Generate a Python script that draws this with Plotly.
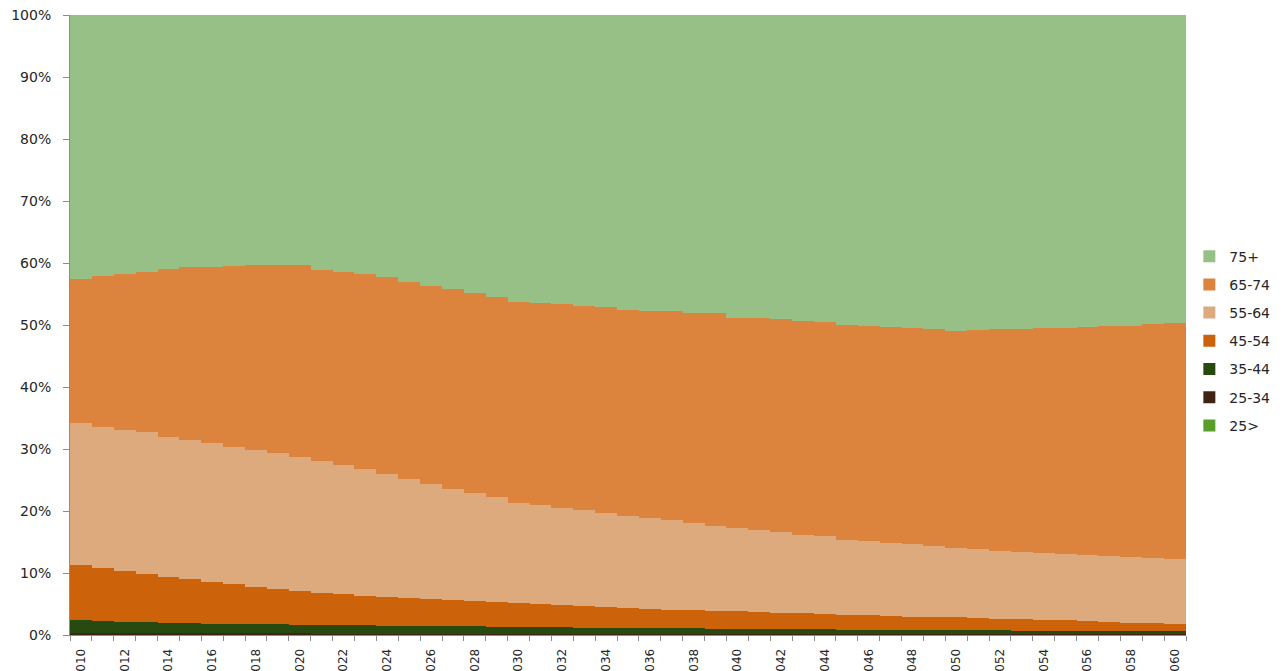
import plotly.graph_objects as go

years = list(range(2010, 2061))

age_groups = ["25>", "25-34", "35-44", "45-54", "55-64", "65-74", "75+"]
colors = ["#5A9E2A", "#3F2314", "#264A0F", "#CC630B", "#DDAA7E", "#DC843E", "#97C087"]

share_under25 = [0.05] * 51
share_25_34 = [0.2] * 11 + [0.15] * 20 + [0.1] * 20
share_35_44 = [2.15, 2.0, 1.9, 1.8, 1.7, 1.65, 1.6, 1.55, 1.5, 1.45,
               1.4, 1.4, 1.4, 1.35, 1.3, 1.3, 1.25, 1.2, 1.2, 1.15,
               1.1, 1.1, 1.05, 1.0, 1.0, 0.95, 0.9, 0.9, 0.85, 0.8,
               0.8, 0.8, 0.8, 0.75, 0.75, 0.7, 0.7, 0.65, 0.65, 0.65,
               0.6, 0.6, 0.6, 0.55, 0.55, 0.55, 0.55, 0.5, 0.5, 0.5, 0.5]
share_45_54 = [8.9, 8.55, 8.15, 7.85, 7.45, 7.1, 6.75, 6.4, 6.05, 5.8,
               5.45, 5.2, 5.0, 4.75, 4.7, 4.5, 4.35, 4.2, 4.05, 3.95,
               3.85, 3.7, 3.6, 3.5, 3.3, 3.2, 3.1, 3.0, 2.95, 2.9,
               2.8, 2.75, 2.65, 2.6, 2.45, 2.35, 2.3, 2.25, 2.15, 2.1,
               2.1, 2.0, 1.9, 1.85, 1.75, 1.65, 1.55, 1.45, 1.35, 1.25, 1.15]
share_55_64 = [22.9, 22.8, 22.8, 22.8, 22.6, 22.5, 22.4, 22.2, 22.1, 21.9,
               21.6, 21.2, 20.9, 20.4, 19.8, 19.1, 18.5, 18.0, 17.45, 17.0,
               16.15, 15.9, 15.65, 15.4, 15.2, 14.85, 14.6, 14.4, 14.0, 13.7,
               13.4, 13.2, 13.0, 12.7, 12.55, 12.2, 12.05, 11.85, 11.65, 11.5,
               11.15, 11.05, 10.95, 10.85, 10.85, 10.75, 10.65, 10.6, 10.6, 10.6, 10.5]
share_65_74 = [23.3, 24.3, 25.1, 25.9, 27.0, 27.8, 28.4, 29.1, 29.7, 30.3,
               30.9, 30.9, 31.1, 31.5, 31.8, 31.9, 32.0, 32.2, 32.2, 32.2,
               32.4, 32.7, 32.9, 33.0, 33.2, 33.2, 33.5, 33.7, 34.0, 34.3,
               34.0, 34.2, 34.4, 34.5, 34.6, 34.6, 34.6, 34.7, 34.9, 34.9,
               35.1, 35.4, 35.7, 36.0, 36.2, 36.4, 36.7, 37.1, 37.3, 37.6, 38.0]
share_75plus = [42.5, 42.1, 41.8, 41.4, 41.0, 40.7, 40.6, 40.5, 40.4, 40.3,
                40.4, 41.1, 41.4, 41.8, 42.2, 43.0, 43.7, 44.2, 44.9, 45.5,
                46.3, 46.4, 46.6, 46.9, 47.1, 47.6, 47.7, 47.8, 48.0, 48.1,
                48.8, 48.9, 49.0, 49.3, 49.5, 50.0, 50.2, 50.4, 50.5, 50.7,
                50.9, 50.8, 50.7, 50.6, 50.5, 50.5, 50.4, 50.2, 50.1, 49.9, 49.7]

series = [share_under25, share_25_34, share_35_44, share_45_54,
          share_55_64, share_65_74, share_75plus]

x_tick_years = list(range(2010, 2061, 2))
y_tick_values = list(range(0, 101, 10))

font_family = "DejaVu Sans"
text_color = "#262626"
axis_color = "#8C8C8C"

fig = go.Figure()
n = len(age_groups)
for i, (name, vals, col) in enumerate(zip(age_groups, series, colors)):
    fig.add_trace(go.Bar(
        x=years, y=vals, name=name, legendgroup=name,
        legendrank=1000 - i,
        marker=dict(color=col, line=dict(width=0)),
        width=1.0,
    ))

fig.update_layout(
    width=1288, height=671,
    barmode="stack", barnorm="percent", bargap=0,
    paper_bgcolor="white", plot_bgcolor="white",
    margin=dict(l=62, r=110, t=7, b=44, autoexpand=False),
    font=dict(family=font_family, size=13, color=text_color),
    legend=dict(
        traceorder="grouped", tracegroupgap=7,
        x=1.003, xanchor="left", y=0.474, yanchor="middle",
        font=dict(family=font_family, size=14, color=text_color),
        bgcolor="rgba(0,0,0,0)", itemwidth=30,
    ),
    showlegend=True,
)

fig.update_xaxes(
    type="linear", range=[2009.5, 2060.5],
    tickmode="array", tickvals=x_tick_years, ticktext=[str(y) for y in x_tick_years],
    tickangle=-90, ticks="", ticklabelstandoff=8, ticklabeloverflow="allow",
    tickfont=dict(family=font_family, size=12, color=text_color),
    showline=True, linecolor=axis_color, linewidth=1,
    showgrid=False, zeroline=False, automargin=False,
    minor=dict(ticks="outside", ticklen=5, tickcolor=axis_color, tickwidth=1,
               tick0=2009.5, dtick=1, showgrid=False),
)

fig.update_yaxes(
    range=[0, 100], tickmode="array", tickvals=y_tick_values,
    ticktext=[f"{v}%" for v in y_tick_values],
    ticks="outside", ticklen=6, tickcolor=axis_color, tickwidth=1,
    ticklabelstandoff=9, ticklabeloverflow="allow",
    tickfont=dict(family=font_family, size=14, color=text_color),
    showline=True, linecolor=axis_color, linewidth=1,
    showgrid=False, zeroline=False, automargin=False,
)

fig.write_html("out.html")
